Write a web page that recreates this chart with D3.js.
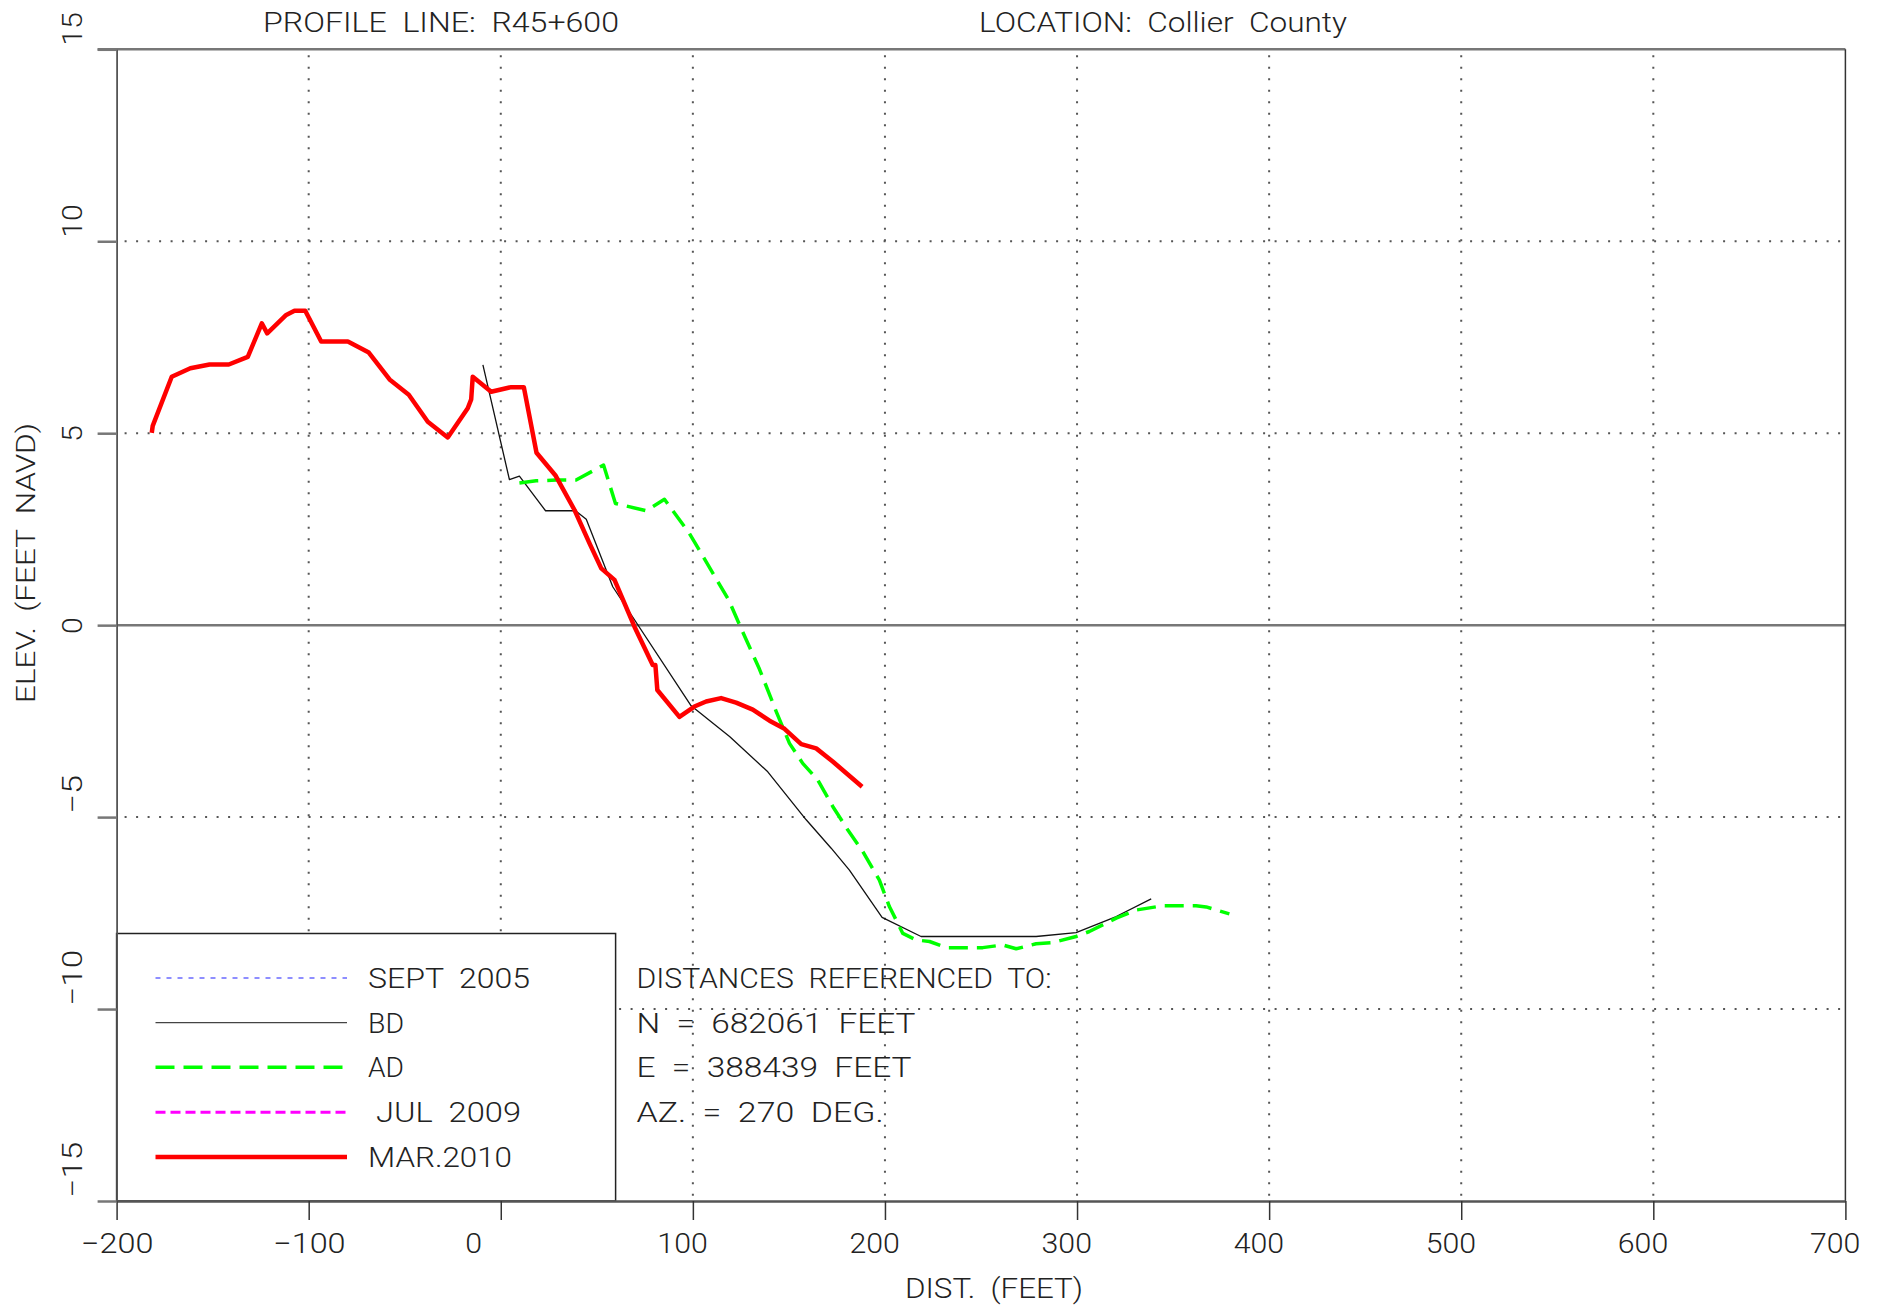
<!DOCTYPE html>
<html>
<head>
<meta charset="utf-8">
<script src="https://cdn.jsdelivr.net/npm/d3@7"></script>
<style>
body { margin: 0; background: #fff; }
svg text { font-family: Roboto, "DejaVu Sans", sans-serif; font-weight: 300; fill: #222; white-space: pre; }
</style>
</head>
<body>
<script>
// Beach profile R45+600, distance (ft) vs elevation (ft NAVD)
var bd = [[-9.3, 6.78], [4.5, 3.79], [9.7, 3.88], [23.3, 2.98], [38.9, 2.98], [44.5, 2.76],
  [58.3, 1.0], [99.1, -2.1], [119.1, -2.9], [139.0, -3.82], [159.0, -5.07], [172.0, -5.81],
  [181.5, -6.38], [198.5, -7.61], [218.8, -8.11], [278.7, -8.11], [299.5, -8.01],
  [320.4, -7.59], [338.6, -7.13]];

var ad = [[9.7, 3.7], [18.4, 3.76], [28.8, 3.78], [39.2, 3.78], [53.5, 4.17], [59.7, 3.17],
  [75.7, 2.98], [85.2, 3.28], [98.2, 2.39], [118.6, 0.66], [125.1, -0.08], [134.7, -1.15],
  [143.4, -2.25], [150.3, -3.08], [157.2, -3.6], [165.0, -4.03], [172.9, -4.73], [180.6, -5.33],
  [188.5, -5.9], [197.1, -6.64], [202.3, -7.33], [209.3, -8.03], [216.2, -8.2], [223.2, -8.24],
  [231.9, -8.4], [250.9, -8.4], [261.3, -8.33], [268.3, -8.43], [278.7, -8.3], [287.4, -8.27],
  [299.5, -8.11], [306.4, -7.98], [320.4, -7.63], [330.8, -7.42], [344.6, -7.31], [362.0, -7.31],
  [367.2, -7.34], [379.3, -7.52]];

var mar2010 = [[-181.7, 5.01], [-181.2, 5.19], [-171.3, 6.47], [-161.6, 6.69], [-151.6, 6.79],
  [-141.6, 6.79], [-131.7, 6.99], [-124.4, 7.86], [-121.6, 7.6], [-111.7, 8.08], [-107.4, 8.19],
  [-101.8, 8.19], [-93.5, 7.39], [-79.6, 7.39], [-68.7, 7.1], [-57.9, 6.4], [-47.9, 6.0],
  [-38.0, 5.3], [-27.6, 4.89], [-17.2, 5.65], [-15.4, 5.88], [-14.6, 6.47], [-5.0, 6.08],
  [5.4, 6.2], [12.0, 6.2], [18.6, 4.49], [28.6, 3.89], [38.4, 3.0], [46.2, 2.13], [52.3, 1.48],
  [59.2, 1.18], [69.6, -0.04], [79.1, -1.04], [80.5, -1.04], [81.5, -1.69], [93.0, -2.39],
  [100.8, -2.12], [106.9, -1.99], [114.7, -1.9], [122.5, -2.02], [131.2, -2.2], [139.9, -2.49],
  [147.7, -2.7], [156.4, -3.1], [164.2, -3.21], [172.8, -3.55], [188.1, -4.21]];

// surveys listed in the legend but with no points on this line
var sept2005 = [];
var jul2009 = [];

var xTicks = [-200, -100, 0, 100, 200, 300, 400, 500, 600, 700];
var xTickLabels = ["\u2212200", "\u2212100", "0", "100", "200", "300", "400", "500", "600", "700"];
var yTicks = [-15, -10, -5, 0, 5, 10, 15];
var yTickLabels = ["\u221215", "\u221210", "\u22125", "0", "5", "10", "15"];

var legendLabels = ["SEPT  2005", "BD", "AD", " JUL  2009", "MAR.2010"];
var infoLines = ["DISTANCES  REFERENCED  TO:", "N  =  682061  FEET", "E  =  388439  FEET", "AZ.  =  270  DEG."];

var svgWidth = 1885, svgHeight = 1307;
var plot = { left: 116.6, right: 1845.4, top: 49.3, bottom: 1201 };

var svg = d3.select("body").append("svg")
  .attr("width", svgWidth)
  .attr("height", svgHeight);

var xScale = d3.scaleLinear().domain([-200, 700]).range([plot.left, plot.right]);
var yScale = d3.scaleLinear().domain([-15, 15]).range([plot.bottom, plot.top]);

// dotted grid (the borders and the zero line are drawn solid)
svg.append("g").selectAll("line")
  .data(xTicks.filter(d => d > -200 && d < 700))
  .enter().append("line")
  .attr("x1", d => xScale(d)).attr("x2", d => xScale(d))
  .attr("y1", plot.top + 6).attr("y2", plot.bottom)
  .attr("stroke", "#555").attr("stroke-width", 2).attr("stroke-dasharray", "2,9.5");

svg.append("g").selectAll("line")
  .data(yTicks.filter(d => d > -15 && d < 15 && d != 0))
  .enter().append("line")
  .attr("x1", plot.left + 8).attr("x2", plot.right)
  .attr("y1", d => yScale(d)).attr("y2", d => yScale(d))
  .attr("stroke", "#555").attr("stroke-width", 2).attr("stroke-dasharray", "2,9.5");

// zero elevation
svg.append("line")
  .attr("x1", plot.left).attr("x2", plot.right)
  .attr("y1", yScale(0)).attr("y2", yScale(0))
  .attr("stroke", "#777").attr("stroke-width", 2.5);

// legend box sits over the grid
var legend = { x: plot.left, y: 933.5, w: 499, h: plot.bottom - 933.5 };
svg.append("rect")
  .attr("x", legend.x).attr("y", legend.y)
  .attr("width", legend.w).attr("height", legend.h)
  .attr("fill", "#fff").attr("stroke", "#222").attr("stroke-width", 1.5);

// series styles
var series = [
  { name: "sept2005", data: sept2005, color: "#6a6aff", width: 1.5, dash: "5,6" },
  { name: "bd", data: bd, color: "#111", width: 1.3, dash: null },
  { name: "ad", data: ad, color: "#00ff00", width: 3.5, dash: "19,9" },
  { name: "jul2009", data: jul2009, color: "#ff00ff", width: 3, dash: "10,5" },
  { name: "mar2010", data: mar2010, color: "#ff0000", width: 4.5, dash: null }
];

var line = d3.line()
  .x(d => xScale(d[0]))
  .y(d => yScale(d[1]));

series.forEach(function(s) {
  if (!s.data.length) return;
  svg.append("path")
    .datum(s.data)
    .attr("d", line)
    .attr("fill", "none")
    .attr("stroke", s.color)
    .attr("stroke-width", s.width)
    .attr("stroke-linejoin", "round")
    .attr("stroke-dasharray", s.dash);
});

// top and right borders
svg.append("line")
  .attr("x1", plot.left - 19).attr("x2", plot.right)
  .attr("y1", plot.top).attr("y2", plot.top)
  .attr("stroke", "#777").attr("stroke-width", 2.5);
svg.append("line")
  .attr("x1", plot.right).attr("x2", plot.right)
  .attr("y1", plot.top).attr("y2", plot.bottom)
  .attr("stroke", "#333").attr("stroke-width", 1.5);

// x axis
var xAxis = d3.axisBottom(xScale)
  .tickValues(xTicks)
  .tickFormat((d, i) => xTickLabels[i])
  .tickSize(19)
  .tickSizeOuter(0);

var xg = svg.append("g")
  .attr("transform", `translate(0, ${plot.bottom})`)
  .call(xAxis);
xg.select(".domain").attr("stroke", "#555").attr("stroke-width", 2.5);
xg.selectAll(".tick line").attr("stroke", "#333").attr("stroke-width", 1.5);
xg.selectAll(".tick text")
  .attr("text-anchor", "start")
  .attr("x", -36)
  .attr("y", 52)
  .attr("dy", null)
  .attr("font-size", 27)
  .attr("textLength", d => {
    var lab = xTickLabels[xTicks.indexOf(d)];
    var neg = lab.indexOf("\u2212") >= 0;
    return (lab.length - (neg ? 1 : 0)) * 16.8 + (neg ? 22 : 0);
  })
  .attr("lengthAdjust", "spacingAndGlyphs")
  .attr("fill", "#222");

// y axis
var yAxis = d3.axisLeft(yScale)
  .tickValues(yTicks)
  .tickFormat((d, i) => yTickLabels[i])
  .tickSize(19)
  .tickSizeOuter(0);

var yg = svg.append("g")
  .attr("transform", `translate(${plot.left}, 0)`)
  .call(yAxis);
yg.select(".domain").attr("stroke", "#555").attr("stroke-width", 1.8);
yg.selectAll(".tick line").attr("stroke", "#777").attr("stroke-width", 2.5);
yg.selectAll(".tick text")
  .each(function(d) {
    var lab = yTickLabels[yTicks.indexOf(d)];
    var neg = lab.indexOf("\u2212") >= 0;
    var single = lab.length == 1;
    d3.select(this)
      .attr("x", null).attr("dy", null)
      .attr("transform", `translate(${82 - plot.left}, ${single ? 0 : -4}) rotate(-90)`)
      .attr("text-anchor", single ? "middle" : "start")
      .attr("font-size", 27)
      .attr("textLength", (lab.length - (neg ? 1 : 0)) * 16.8 + (neg ? 22 : 0))
      .attr("lengthAdjust", "spacingAndGlyphs")
      .attr("fill", "#222");
  });

// legend entries
var rowY = [978, 1022.7, 1067.3, 1112.3, 1157];
series.forEach(function(s, i) {
  var lab = legendLabels[i];
  var spaces = lab.split(" ").length - 1;
  svg.append("line")
    .attr("x1", 155.5).attr("x2", 347)
    .attr("y1", rowY[i]).attr("y2", rowY[i])
    .attr("stroke", s.name == "bd" ? "#444" : s.color)
    .attr("stroke-width", s.width)
    .attr("stroke-dasharray", s.dash);
  svg.append("text")
    .attr("x", 368)
    .attr("y", rowY[i] + 10)
    .attr("font-size", 28)
    .attr("textLength", (lab.length - spaces) * 18 + spaces * 9)
    .attr("lengthAdjust", "spacingAndGlyphs")
    .text(lab);
});

// reference point notes
infoLines.forEach(function(t, i) {
  svg.append("text")
    .attr("x", 636.5)
    .attr("y", rowY[i] + 10)
    .attr("font-size", 27)
    .attr("textLength", [415, 279, 275, 247][i])
    .attr("lengthAdjust", "spacingAndGlyphs")
    .text(t);
});

// headings
svg.append("text")
  .attr("x", 263).attr("y", 31.7)
  .attr("font-size", 28)
  .attr("textLength", 356).attr("lengthAdjust", "spacingAndGlyphs")
  .text("PROFILE  LINE:  R45+600");

svg.append("text")
  .attr("x", 979).attr("y", 31.7)
  .attr("font-size", 28)
  .attr("textLength", 368).attr("lengthAdjust", "spacingAndGlyphs")
  .text("LOCATION:  Collier  County");

svg.append("text")
  .attr("x", 905).attr("y", 1298)
  .attr("font-size", 27)
  .attr("textLength", 178).attr("lengthAdjust", "spacingAndGlyphs")
  .text("DIST.  (FEET)");

svg.append("text")
  .attr("transform", "translate(35, 703) rotate(-90)")
  .attr("font-size", 26)
  .attr("textLength", 280).attr("lengthAdjust", "spacingAndGlyphs")
  .text("ELEV.  (FEET  NAVD)");
</script>
</body>
</html>
